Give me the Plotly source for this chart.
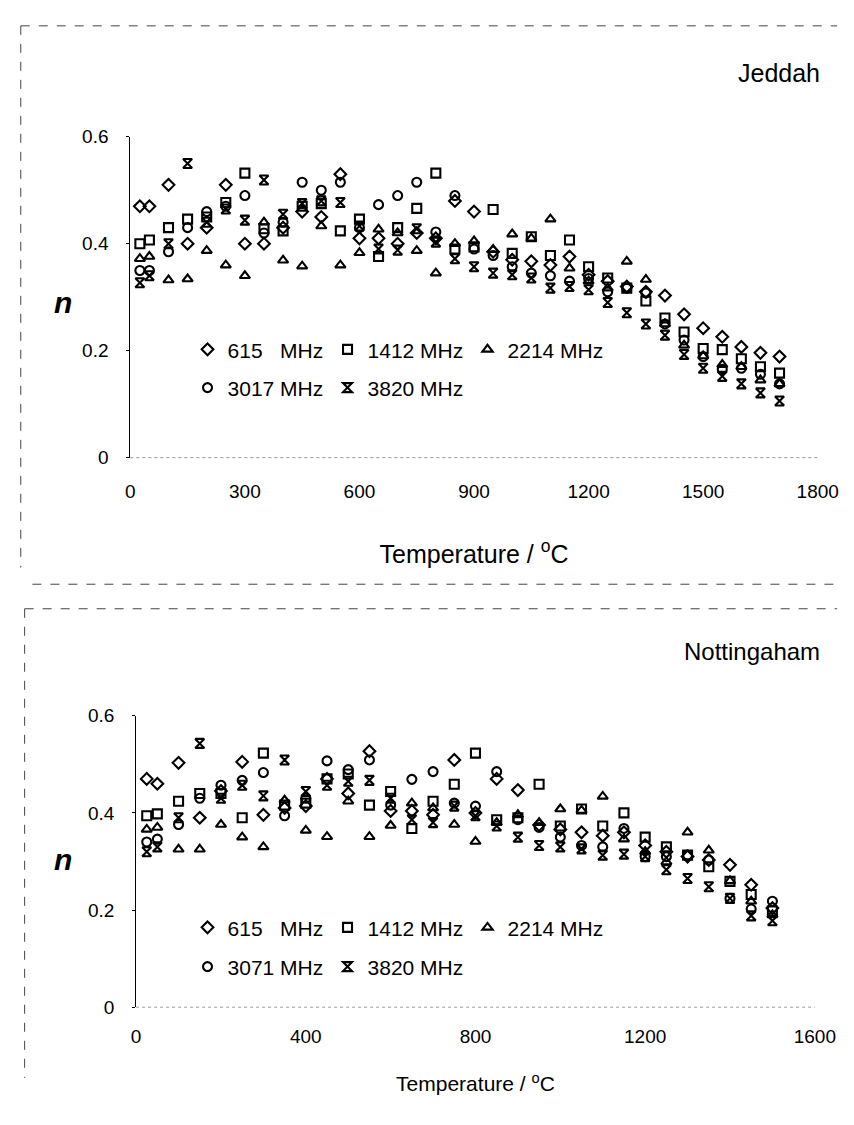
import plotly.graph_objects as go

W, H = 854, 1125

# ---------------- data ----------------
T_jeddah = [25, 50, 100, 150, 200, 250, 300, 350, 400, 450, 500, 550, 600, 650, 700,
            750, 800, 850, 900, 950, 1000, 1050, 1100, 1150, 1200, 1250, 1300, 1350,
            1400, 1450, 1500, 1550, 1600, 1650, 1700]
j_615 = [0.47, 0.47, 0.51, 0.40, 0.43, 0.51, 0.40, 0.40, 0.43, 0.46, 0.45, 0.53, 0.41, 0.41,
         0.40, 0.42, 0.41, 0.48, 0.46, 0.385, 0.37, 0.367, 0.36, 0.376, 0.342, 0.33, 0.32,
         0.31, 0.303, 0.268, 0.242, 0.226, 0.207, 0.196, 0.189]
j_1412 = [0.40, 0.407, 0.43, 0.446, 0.45, 0.477, 0.532, 0.428, 0.424, 0.47, 0.475, 0.424,
          0.446, 0.376, 0.43, 0.466, 0.532, 0.39, 0.394, 0.464, 0.382, 0.413, 0.378, 0.407,
          0.357, 0.336, 0.317, 0.293, 0.261, 0.235, 0.204, 0.202, 0.185, 0.17, 0.158]
j_2214 = [0.372, 0.376, 0.332, 0.334, 0.387, 0.36, 0.34, 0.44, 0.369, 0.358, 0.433, 0.36,
          0.383, 0.427, 0.42, 0.387, 0.345, 0.40, 0.405, 0.389, 0.418, 0.41, 0.446, 0.354,
          0.33, 0.317, 0.367, 0.333, 0.25, 0.21, 0.19, 0.174, 0.17, 0.145, 0.138]
j_3017 = [0.35, 0.35, 0.385, 0.43, 0.46, 0.47, 0.49, 0.42, 0.44, 0.515, 0.50, 0.515, 0.43,
          0.473, 0.49, 0.515, 0.422, 0.49, 0.39, 0.378, 0.357, 0.345, 0.34, 0.33, 0.335,
          0.31, 0.317, 0.308, 0.25, 0.22, 0.189, 0.165, 0.167, 0.156, 0.138]
j_3820 = [0.327, 0.34, 0.40, 0.55, 0.44, 0.465, 0.444, 0.519, 0.455, 0.475, 0.48, 0.477,
          0.433, 0.39, 0.388, 0.428, 0.403, 0.372, 0.357, 0.345, 0.342, 0.336, 0.317, 0.32,
          0.314, 0.29, 0.271, 0.25, 0.229, 0.193, 0.167, 0.152, 0.138, 0.121, 0.106]

T_nott = [25, 50, 100, 150, 200, 250, 300, 350, 400, 450, 500, 550, 600, 650, 700, 750,
          800, 850, 900, 950, 1000, 1050, 1100, 1150, 1200, 1250, 1300, 1350, 1400, 1450, 1500]
n_615 = [0.47, 0.46, 0.503, 0.39, 0.445, 0.505, 0.396, 0.41, 0.414, 0.47, 0.44, 0.527,
         0.404, 0.404, 0.396, 0.509, 0.40, 0.47, 0.447, 0.375, 0.366, 0.36, 0.353, 0.36,
         0.333, 0.32, 0.31, 0.303, 0.293, 0.252, 0.204]
n_1412 = [0.394, 0.398, 0.424, 0.44, 0.44, 0.39, 0.523, 0.416, 0.42, 0.47, 0.48, 0.416,
          0.444, 0.368, 0.424, 0.459, 0.523, 0.386, 0.39, 0.459, 0.373, 0.408, 0.373, 0.40,
          0.35, 0.33, 0.313, 0.289, 0.259, 0.232, 0.198]
n_2214 = [0.366, 0.37, 0.325, 0.325, 0.376, 0.35, 0.33, 0.426, 0.364, 0.351, 0.424, 0.351,
          0.374, 0.42, 0.41, 0.376, 0.341, 0.38, 0.396, 0.38, 0.408, 0.405, 0.434, 0.346,
          0.32, 0.299, 0.36, 0.323, 0.26, 0.218, 0.19]
n_3071 = [0.34, 0.346, 0.376, 0.43, 0.457, 0.467, 0.483, 0.394, 0.43, 0.507, 0.489, 0.509,
          0.416, 0.469, 0.485, 0.42, 0.414, 0.485, 0.386, 0.37, 0.35, 0.333, 0.33, 0.368,
          0.31, 0.31, 0.313, 0.303, 0.224, 0.202, 0.218]
n_3820 = [0.32, 0.33, 0.39, 0.543, 0.43, 0.457, 0.435, 0.509, 0.444, 0.457, 0.465, 0.467,
          0.43, 0.386, 0.38, 0.414, 0.394, 0.373, 0.35, 0.333, 0.33, 0.326, 0.313, 0.315,
          0.31, 0.283, 0.265, 0.248, 0.224, 0.188, 0.178]

top_labels = ["615\u00a0\u00a0\u00a0MHz", "1412 MHz", "2214 MHz", "3017 MHz", "3820 MHz"]
bot_labels = ["615\u00a0\u00a0\u00a0MHz", "1412 MHz", "2214 MHz", "3071 MHz", "3820 MHz"]
symbols = ["diamond-open", "square-open", "triangle-up-open", "circle-open", "hourglass-open"]

FONT = "Liberation Sans, Arial, sans-serif"

def px(x):
    return x / W

def py(y):
    return 1 - y / H

fig = go.Figure()

top_series = [j_615, j_1412, j_2214, j_3017, j_3820]
bot_series = [n_615, n_1412, n_2214, n_3071, n_3820]
top_leg = ["legend", "legend", "legend", "legend2", "legend2"]
bot_leg = ["legend3", "legend3", "legend3", "legend4", "legend4"]

mk = lambda s: dict(symbol=s, size=9, color="black", line=dict(color="black", width=2.1))

for i, ys in enumerate(top_series):
    fig.add_trace(go.Scatter(x=T_jeddah, y=ys, mode="markers", name=top_labels[i],
                             marker=mk(symbols[i]), xaxis="x", yaxis="y", legend=top_leg[i]))
for i, ys in enumerate(bot_series):
    fig.add_trace(go.Scatter(x=T_nott, y=ys, mode="markers", name=bot_labels[i],
                             marker=mk(symbols[i]), xaxis="x2", yaxis="y2", legend=bot_leg[i]))

# pixel geometry of the two panels
t_l, t_r, t_b, t_t = 121, 830, 448, 121
b_l, b_r, b_b, b_t = 127, 827, 1008, 711

axis_common = dict(showgrid=False, zeroline=False, color="black",
                   tickfont=dict(family=FONT, size=19, color="black"))

legend_common = dict(orientation="h", bgcolor="rgba(0,0,0,0)", borderwidth=0,
                     font=dict(family=FONT, size=21, color="black"),
                     entrywidth=95, entrywidthmode="pixels",
                     xanchor="left", yanchor="middle", itemclick=False)

fig.update_layout(
    width=W, height=H, margin=dict(l=0, r=0, t=0, b=0),
    paper_bgcolor="white", plot_bgcolor="white",
    font=dict(family=FONT, color="black"),
    xaxis=dict(domain=[px(t_l), px(t_r)], range=[0, 1800], tickvals=[0, 300, 600, 900, 1200, 1500, 1800],
               anchor="y", ticks="", showline=False, ticklabelstandoff=20,
               title=dict(text="Temperature / <sup>o</sup>C", font=dict(family=FONT, size=25), standoff=44),
               **axis_common),
    yaxis=dict(domain=[py(t_b), py(t_t)], range=[0, 0.6], tickvals=[0, 0.2, 0.4, 0.6],
               ticktext=["0", "0.2", "0.4", "0.6"], anchor="x", ticks="outside", ticklen=3,
               showline=True, linecolor="black", linewidth=1, ticklabelstandoff=14,
               **axis_common),
    xaxis2=dict(domain=[px(b_l), px(b_r)], range=[0, 1600], tickvals=[0, 400, 800, 1200, 1600],
                anchor="y2", ticks="", showline=False, ticklabelstandoff=16,
                title=dict(text="Temperature / <sup>o</sup>C", font=dict(family=FONT, size=21), standoff=30),
                **axis_common),
    yaxis2=dict(domain=[py(b_b), py(b_t)], range=[0, 0.6], tickvals=[0, 0.2, 0.4, 0.6],
                ticktext=["0", "0.2", "0.4", "0.6"], anchor="x2", ticks="outside", ticklen=3,
                showline=True, linecolor="black", linewidth=1, ticklabelstandoff=14,
                **axis_common),
    legend=dict(x=px(180), y=py(338), **legend_common),
    legend2=dict(x=px(180), y=py(377), **legend_common),
    legend3=dict(x=px(180), y=py(927), **legend_common),
    legend4=dict(x=px(180), y=py(967), **legend_common),
)

# panel labels and axis symbol n
fig.add_annotation(x=px(834), y=py(56), xref="paper", yref="paper", text="Jeddah",
                   showarrow=False, xanchor="right", yanchor="middle",
                   font=dict(family=FONT, size=25, color="black"))
fig.add_annotation(x=px(834), y=py(646), xref="paper", yref="paper", text="Nottingaham",
                   showarrow=False, xanchor="right", yanchor="middle",
                   font=dict(family=FONT, size=24, color="black"))
for yy in (290, 857):
    fig.add_annotation(x=px(52), y=py(yy), xref="paper", yref="paper", text="<b><i>n</i></b>",
                       showarrow=False, xanchor="center", yanchor="middle",
                       font=dict(family=FONT, size=30, color="black"))

# faint broken x-axis lines and scanned frame edges
frame = dict(color="#444", width=1, dash="dash")
shapes = [
    dict(type="line", xref="paper", yref="paper", x0=px(t_l), x1=px(t_r), y0=py(t_b), y1=py(t_b),
         line=dict(color="#999", width=1, dash="dot")),
    dict(type="line", xref="paper", yref="paper", x0=px(b_l), x1=px(b_r), y0=py(b_b), y1=py(b_b),
         line=dict(color="#999", width=1, dash="dot")),
    dict(type="line", xref="paper", yref="paper", x0=px(8), x1=px(850), y0=py(8), y1=py(8), line=frame),
    dict(type="line", xref="paper", yref="paper", x0=px(8), x1=px(8), y0=py(8), y1=py(560), line=frame),
    dict(type="line", xref="paper", yref="paper", x0=px(20), x1=px(850), y0=py(577), y1=py(577), line=frame),
    dict(type="line", xref="paper", yref="paper", x0=px(12), x1=px(850), y0=py(602), y1=py(602), line=frame),
    dict(type="line", xref="paper", yref="paper", x0=px(12), x1=px(12), y0=py(602), y1=py(1080), line=frame),
]
fig.update_layout(shapes=shapes)

fig.write_html("out.html")
